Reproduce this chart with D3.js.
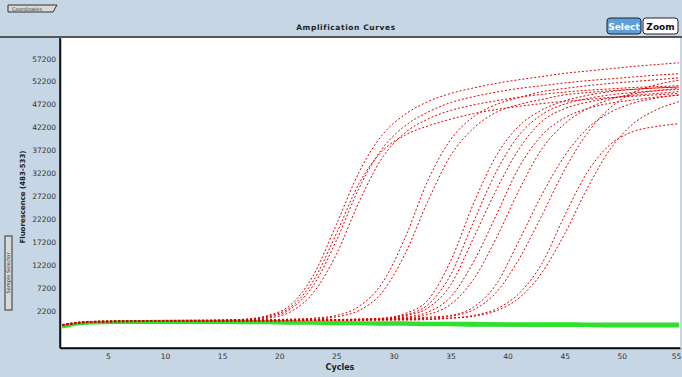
<!DOCTYPE html>
<html>
<head>
<meta charset="utf-8">
<script src="https://cdn.jsdelivr.net/npm/d3@7"></script>
<style>
  body { margin: 0; background: #c6d6e5; }
  svg { display: block; font-family: "DejaVu Sans", sans-serif; }
</style>
</head>
<body>
<svg id="chart" width="682" height="377"></svg>
<script>
var cycles = [1, 3, 6, 10, 14, 17, 19, 21, 23, 25, 27, 29, 31, 33, 35, 37, 39, 41, 43, 45, 47, 49, 51, 53, 55];

// fluorescence, thousands
var wellA1 = [-0.9,-0.3,-0.1,0,0.1,0.4,1.2,3.5,10,21,32.5,40.5,45,47.8,49.6,50.8,51.8,52.6,53.3,54,54.5,55,55.5,55.9,56.3];
var wellA2 = [-0.8,-0.3,-0.1,0,0.1,0.3,0.8,2.6,7.8,17.5,29,37.5,42.5,45.5,47.6,48.9,49.9,50.7,51.3,51.9,52.4,52.8,53.2,53.6,53.9];
var wellA3 = [-1.0,-0.3,-0.1,0,0.1,0.2,0.6,2.0,6.2,14.5,26,35.5,41,44,45.9,47.1,48,48.8,49.4,49.9,50.3,50.6,50.9,51.1,51.3];
var wellA4 = [-0.9,-0.2,0,0.1,0.1,0.3,1.0,3.0,8.8,19,30,37,40.5,42.5,44,45.2,46.1,46.8,47.4,47.9,48.3,48.7,49,49.3,49.6];
var wellB1 = [-0.8,-0.2,0,0.1,0.2,0.2,0.3,0.4,0.6,1.2,3.2,8.2,18,30.5,39.5,44.5,47.2,48.7,50,50.7,51.3,51.8,52.2,52.6,53];
var wellB2 = [-0.9,-0.3,-0.1,0,0.1,0.2,0.2,0.3,0.4,0.9,2.3,6.2,14.5,26,36,42,45.5,47.2,48.3,49.3,49.8,50.2,50.5,50.8,51];
var wellC1 = [-0.9,-0.3,-0.1,0,0,0.1,0.1,0.2,0.3,0.3,0.4,0.6,1.6,4.5,13,25.5,36,42.5,46,48,49.2,50,50.5,50.8,51];
var wellC2 = [-0.8,-0.2,0,0,0.1,0.1,0.1,0.1,0.2,0.3,0.4,0.5,1.3,3.5,10,21.5,32.5,40.5,45,47.3,48.5,49.3,49.8,50.2,50.5];
var wellC3 = [-1.0,-0.4,-0.2,-0.1,0,0,0,0.1,0.1,0.2,0.3,0.4,1.1,2.8,7.8,18,28.5,37.5,43.5,46.3,47.7,48.6,49.2,49.6,50];
var wellC4 = [-0.9,-0.3,-0.1,0,0,0.1,0.1,0.1,0.2,0.2,0.3,0.4,0.8,1.9,5.2,12.8,23,33.5,40.5,44.3,46.3,47.5,48.2,48.8,49.2];
var wellC5 = [-0.8,-0.2,0,0,0.1,0.1,0.1,0.2,0.2,0.3,0.3,0.4,0.6,1.4,3.6,9,18,28.5,37.5,43,46.3,48.3,49.5,50.2,50.7];
var wellD1 = [-0.9,-0.3,-0.1,0,0,0,0.1,0.1,0.2,0.2,0.3,0.4,0.5,0.8,1.2,3,8,17.5,27.5,36,42,45.5,47.5,48.6,49.3];
var wellD2 = [-1.0,-0.4,-0.2,-0.1,0,0,0,0.1,0.1,0.1,0.2,0.3,0.4,0.6,1.0,2.4,6.2,13.5,23,33,41,46.5,49.8,51.5,52.5];
var wellE1 = [-0.9,-0.3,-0.1,0,0,0,0,0.1,0.1,0.1,0.2,0.2,0.3,0.4,0.6,1.0,2.2,5,10.5,19,29,37.5,43,46,47.8];
var wellE2 = [-0.8,-0.2,-0.1,0,0,0,0,0,0.1,0.1,0.1,0.2,0.2,0.3,0.6,1.2,2.6,6,12.5,23,32.5,38.5,41.3,42.4,43];

// negative wells (green)
var negG1 = [-1.3,-0.5,-0.3,-0.2,-0.2,-0.2,-0.3,-0.3,-0.3,-0.4,-0.4,-0.5,-0.5,-0.5,-0.6,-0.6,-0.6,-0.7,-0.7,-0.7,-0.7,-0.8,-0.8,-0.8,-0.8];
var negG2 = [-1.1,-0.3,-0.1,0,0,0,-0.1,-0.1,-0.2,-0.2,-0.3,-0.3,-0.3,-0.4,-0.4,-0.4,-0.5,-0.5,-0.5,-0.5,-0.6,-0.6,-0.6,-0.6,-0.6];
var negG3 = [-1.4,-0.6,-0.4,-0.4,-0.4,-0.5,-0.5,-0.6,-0.6,-0.7,-0.7,-0.8,-0.8,-0.9,-0.9,-1.0,-1.0,-1.0,-1.1,-1.1,-1.1,-1.2,-1.2,-1.2,-1.2];
var negG4 = [-1.2,-0.4,-0.2,-0.1,-0.1,-0.2,-0.2,-0.2,-0.3,-0.3,-0.4,-0.5,-0.6,-0.7,-0.8,-0.9,-0.9,-1.0,-1.0,-1.0,-1.0,-1.1,-1.1,-1.1,-1.0];

var xTicks = [5, 10, 15, 20, 25, 30, 35, 40, 45, 50, 55];
var yTicks = [2200, 7200, 12200, 17200, 22200, 27200, 32200, 37200, 42200, 47200, 52200, 57200];

var positives = [wellA1, wellA2, wellA3, wellA4, wellB1, wellB2, wellC1, wellC2, wellC3, wellC4, wellC5, wellD1, wellD2, wellE1, wellE2];
var negatives = [negG1, negG2, negG3, negG4];

var svg = d3.select('#chart');

// Plot frame
var plotLeft = 60, plotRight = 680, plotTop = 38, plotBottom = 348;

var x = d3.scaleLinear().domain([0.8, 55.1]).range([plotLeft, plotRight]);
var y = d3.scaleLinear().domain([-5900, 61700]).range([plotBottom, plotTop]);

svg.append('rect')
	.attr('x', plotLeft).attr('y', plotTop)
	.attr('width', plotRight - plotLeft).attr('height', plotBottom - plotTop)
	.attr('fill', '#fff');

// header strip line
svg.append('line')
	.attr('x1', 0).attr('x2', 682)
	.attr('y1', 37).attr('y2', 37)
	.attr('stroke', '#555').attr('stroke-width', 2);

svg.append('text')
	.attr('x', 346).attr('y', 30)
	.attr('text-anchor', 'middle')
	.attr('font-size', 7.5).attr('font-weight', 'bold')
	.attr('letter-spacing', 0.6)
	.attr('fill', '#222')
	.text('Amplification Curves');

// Select / Zoom buttons
var btn = svg.append('g');
btn.append('rect').attr('x', 607).attr('y', 18).attr('width', 34).attr('height', 16).attr('rx', 3)
	.attr('fill', '#5d9fd8').attr('stroke', '#223').attr('stroke-width', 1);
btn.append('text').attr('x', 624).attr('y', 30).attr('text-anchor', 'middle')
	.attr('font-size', 9).attr('fill', '#fff').attr('font-weight', 'bold').text('Select');
btn.append('rect').attr('x', 643).attr('y', 18).attr('width', 35).attr('height', 16).attr('rx', 3)
	.attr('fill', '#fff').attr('stroke', '#223').attr('stroke-width', 1);
btn.append('text').attr('x', 660.5).attr('y', 30).attr('text-anchor', 'middle')
	.attr('font-size', 9).attr('fill', '#111').attr('font-weight', 'bold').text('Zoom');

// small tabs on the window edge
svg.append('path')
	.attr('d', 'M8,5 H57 L53,12 H8 Z')
	.attr('fill', '#d8d8d8').attr('stroke', '#333').attr('stroke-width', 1);
svg.append('text').attr('x', 12).attr('y', 11)
	.attr('font-size', 5).attr('fill', '#333').text('Coordinates');
svg.append('rect')
	.attr('x', 5).attr('y', 236).attr('width', 7).attr('height', 74)
	.attr('fill', '#d8d8d8').attr('stroke', '#333').attr('stroke-width', 1);
svg.append('text')
	.attr('transform', 'translate(10,273) rotate(-90)')
	.attr('text-anchor', 'middle')
	.attr('font-size', 5).attr('fill', '#333').text('Sample Selector');

// Axes
var xAxis = svg.append('g')
	.attr('transform', 'translate(0,' + plotBottom + ')')
	.call(d3.axisBottom(x).tickValues(xTicks).tickSize(0).tickPadding(6).tickFormat(d3.format('d')));
var yAxis = svg.append('g')
	.attr('transform', 'translate(' + plotLeft + ',0)')
	.call(d3.axisLeft(y).tickValues(yTicks).tickSize(0).tickPadding(4).tickFormat(d3.format('d')));

[xAxis, yAxis].forEach(function(a) {
	a.selectAll('text').attr('font-size', 7.5).attr('fill', '#333').attr('font-family', 'DejaVu Sans, sans-serif');
	a.select('.domain').attr('stroke', '#111').attr('stroke-width', 1.5);
});
xAxis.selectAll('.tick:last-of-type text').attr('text-anchor', 'end').attr('dx', 2);

svg.append('text')
	.attr('x', 340).attr('y', 370)
	.attr('text-anchor', 'middle')
	.attr('font-size', 8).attr('font-weight', 'bold').attr('fill', '#222')
	.text('Cycles');

svg.append('text')
	.attr('transform', 'translate(25,197) rotate(-90)')
	.attr('text-anchor', 'middle')
	.attr('font-size', 7).attr('font-weight', 'bold').attr('fill', '#222')
	.text('Fluorescence (483-533)');

// Curves
var line = d3.line()
	.x(function(d, i) { return x(cycles[i]); })
	.y(function(d) { return y(d * 1000); })
	.curve(d3.curveMonotoneX);

var plot = svg.append('g');

plot.selectAll('.neg')
	.data(negatives)
	.enter()
	.append('path')
	.attr('class', 'neg')
	.attr('d', line)
	.attr('fill', 'none')
	.attr('stroke', '#2fe02f')
	.attr('stroke-width', 2.2);

plot.selectAll('.pos')
	.data(positives)
	.enter()
	.append('path')
	.attr('class', 'pos')
	.attr('d', line)
	.attr('fill', 'none')
	.attr('stroke', '#e00000')
	.attr('stroke-width', 1)
	.attr('stroke-dasharray', '2,2');

// redraw left/bottom frame on top
svg.append('line').attr('x1', plotLeft).attr('x2', plotLeft).attr('y1', plotTop).attr('y2', plotBottom)
	.attr('stroke', '#111').attr('stroke-width', 1.5);
svg.append('line').attr('x1', plotLeft).attr('x2', plotRight).attr('y1', plotBottom).attr('y2', plotBottom)
	.attr('stroke', '#111').attr('stroke-width', 1.5);
</script>
</body>
</html>
